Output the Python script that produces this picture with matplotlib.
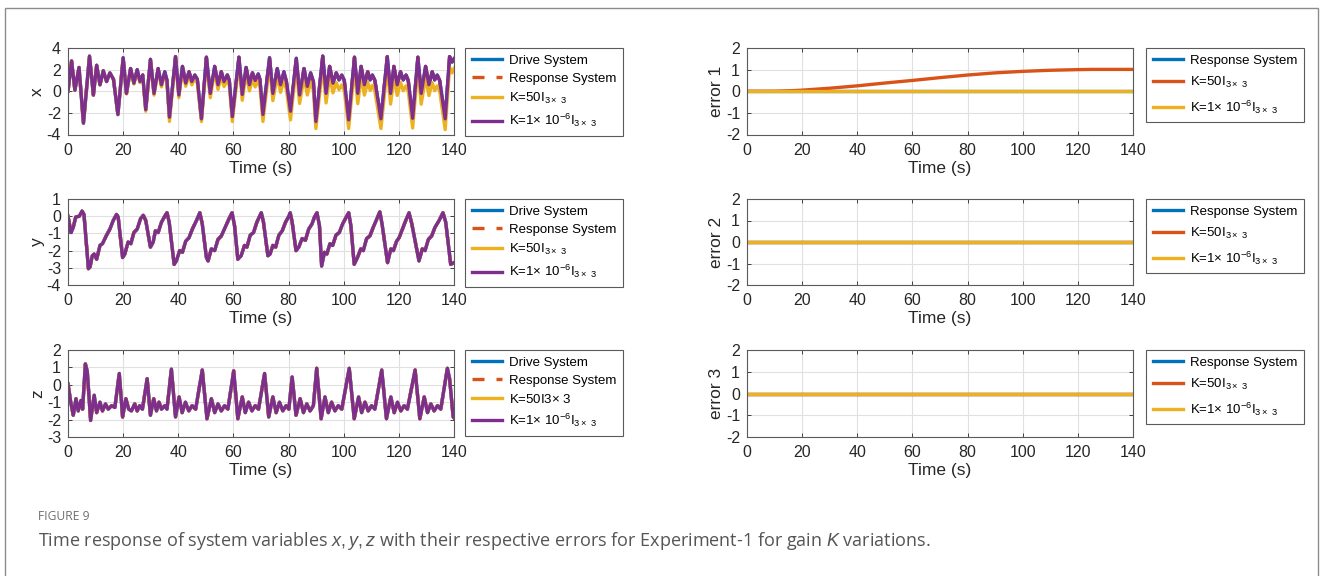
import numpy as np
import matplotlib
matplotlib.use('Agg')
from matplotlib import pyplot as plt
from matplotlib.patches import Rectangle

plt.rcParams['font.family'] = ['Liberation Sans', 'DejaVu Sans']
plt.rcParams['mathtext.fontset'] = 'custom'
plt.rcParams['mathtext.rm'] = 'Liberation Sans'
plt.rcParams['mathtext.it'] = 'Liberation Sans:italic'
plt.rcParams['axes.unicode_minus'] = False

#------------------------------------------------------------------------------
# values

# x state: K=1e-6 (purple) and K=50 (yellow)
t_x = [0, 1.3, 2.5, 4.0, 5.6, 7.8, 9.2, 10.4, 11.6, 12.8, 14.0, 15.2, 16.5, 18.1,
       20.0, 21.2, 22.7, 23.9, 25.1, 26.1, 27.1, 28.2, 29.9, 31.2, 32.7, 33.9, 35.1, 35.9, 36.8,
       39.0, 40.2, 41.5, 42.7, 43.9, 44.9, 46.0, 46.9, 48.4, 50.2, 51.6, 53.2, 54.4, 55.6, 56.6, 57.8, 58.5, 59.6,
       62.0, 63.2, 64.6, 65.8, 66.9, 67.9, 69.0, 69.6, 70.7, 73.1, 74.3, 75.9, 77.1, 78.3, 79.2, 80.7,
       82.8, 84.0, 85.6, 86.8, 88.0, 89.0, 89.9, 92.4, 93.6, 94.9, 96.1, 97.3, 98.3, 99.3, 100.2, 101.8,
       103.9, 105.1, 106.3, 107.5, 108.7, 109.6, 110.4, 111.3, 113.5, 115.8, 117.0, 118.2, 119.4, 120.6, 121.6, 122.6, 123.4, 125.0,
       126.9, 128.1, 129.7, 130.9, 132.1, 133.0, 133.9, 134.8, 136.8, 138.4, 139.3, 140.0]
x_k6 = [0.0, 2.8, 0.1, 2.2, -2.95, 3.25, -0.35, 2.4, 0.6, 1.9, 0.9, 1.7, 1.1, -2.15,
        3.1, -0.2, 2.1, 0.75, 2.0, 0.9, 1.5, -1.7, 2.95, -0.2, 2.1, 0.6, 1.8, 1.0, -2.4,
        3.2, -0.35, 2.3, 0.75, 1.8, 0.9, 1.5, 1.1, -2.55, 3.15, -0.2, 2.3, 0.6, 1.8, 0.9, 1.5, 1.0, -2.35,
        3.15, -0.3, 2.2, 0.6, 1.7, 1.0, 1.6, 1.1, -2.15, 3.1, -0.2, 2.1, 0.6, 1.8, 0.9, -1.85,
        3.05, -0.35, 2.1, 0.45, 1.7, 0.9, -2.8, 3.25, -0.2, 2.3, 0.75, 1.7, 1.05, 1.5, 1.0, -2.65,
        3.15, -0.2, 2.3, 0.6, 1.8, 1.05, 1.5, 1.0, -2.55, 3.2, -0.2, 2.3, 0.6, 1.8, 1.05, 1.5, 1.0, -2.5,
        3.15, -0.2, 2.3, 0.6, 1.8, 1.05, 1.5, 1.0, -2.55, 3.2, 2.7, 3.0]
x_k50 = [0.0, 2.8, 0.1, 2.2, -2.95, 3.25, -0.35, 2.4, 0.6, 1.9, 0.9, 1.7, 1.1, -2.17,
         3.05, -0.26, 2.03, 0.66, 1.9, 0.8, 1.39, -1.85, 2.8, -0.36, 1.92, 0.4, 1.59, 0.78, -2.79,
         2.96, -0.6, 2.03, 0.46, 1.5, 0.59, 1.18, 0.77, -2.8, 2.78, -0.6, 1.88, 0.17, 1.36, 0.44, 1.03, 0.52, -2.8,
         2.62, -0.84, 1.64, 0.03, 1.11, 0.4, 0.99, 0.47, -2.8, 2.44, -0.87, 1.42, -0.1, 1.08, 0.17, -2.65,
         2.28, -1.13, 1.31, -0.35, 0.88, 0.06, -3.45, 2.38, -1.08, 1.41, -0.15, 0.79, 0.14, 0.58, 0.08, -3.45,
         2.21, -1.15, 1.35, -0.36, 0.84, 0.08, 0.53, 0.03, -3.45, 2.22, -1.19, 1.31, -0.39, 0.8, 0.05, 0.5, 0.0, -3.4,
         2.15, -1.2, 1.3, -0.4, 0.8, 0.05, 0.5, 0.0, -3.55, 2.2, 1.7, 2.1]

# y state (all curves on top of each other)
t_y = [0, 1.1, 1.9, 2.8, 4.1, 5.1, 5.8, 7.4, 8.0, 8.8, 9.5, 10.4, 11.6, 12.5, 14.0, 15.2, 16.4, 17.6, 18.2,
       19.8, 20.6, 21.8, 22.8, 23.9, 25.1, 26.3, 27.3, 28.2, 29.9, 30.9, 31.7, 32.7, 33.9, 35.1, 35.9, 36.7,
       38.5, 39.3, 40.5, 41.5, 42.7, 43.9, 45.1, 46.6, 47.8, 48.7, 50.2, 50.8, 52.0, 53.2, 54.4, 55.6, 57.0,
       58.4, 59.5, 60.4, 61.6, 62.8, 64.0, 64.9, 66.1, 67.3, 68.5, 69.5, 70.1, 70.9, 72.5, 73.3, 74.3, 75.3,
       76.5, 77.7, 78.9, 80.1, 80.6, 81.3, 82.7, 83.7, 84.9, 86.1, 87.3, 88.5, 89.4, 90.3, 91.2, 92.0, 93.0,
       93.9, 95.0, 96.0, 97.2, 98.4, 99.6, 101.1, 101.8, 102.6, 103.8, 105.0, 106.2, 107.1, 108.3, 109.5,
       110.7, 111.9, 113.1, 113.9, 115.9, 117.1, 118.0, 119.2, 120.1, 121.3, 122.5, 123.7, 124.7, 127.3,
       128.5, 129.5, 130.7, 131.9, 133.1, 134.6, 136.0, 137.0, 138.8, 140.0]
y_vals = [0.0, -0.95, -0.65, -0.05, 0.0, 0.3, 0.1, -3.05, -2.95, -2.3, -2.2, -2.5, -1.7, -1.6, -1.1, -0.75, -0.25, 0.1, -0.05,
          -2.4, -2.2, -1.5, -1.6, -0.95, -0.75, -0.15, 0.05, -0.25, -1.8, -1.5, -0.85, -0.95, -0.35, 0.0, 0.2, -0.35,
          -2.8, -2.6, -2.0, -2.1, -1.45, -1.25, -0.75, -0.25, 0.2, -0.45, -2.4, -2.6, -1.9, -2.0, -1.35, -1.15, -0.65,
          -0.15, 0.2, -0.55, -2.5, -2.3, -1.7, -1.8, -1.1, -0.95, -0.35, 0.0, 0.2, -0.35, -2.3, -2.2, -1.7, -1.8,
          -1.1, -0.85, -0.35, 0.0, 0.2, -0.35, -2.0, -1.8, -1.3, -1.4, -0.75, -0.45, -0.05, 0.2, -0.55, -2.9, -2.1,
          -2.2, -1.6, -1.7, -1.1, -0.95, -0.45, 0.0, 0.2, -0.55, -2.8, -2.4, -1.9, -2.0, -1.3, -1.15,
          -0.65, -0.2, 0.25, -0.45, -2.7, -1.9, -2.0, -1.45, -1.25, -0.75, -0.25, 0.2, -0.45, -2.6,
          -1.9, -2.0, -1.35, -1.15, -0.65, -0.25, 0.2, -0.35, -2.8, -2.7]

# z state
t_z = [0, 1.0, 1.9, 2.9, 3.7, 4.7, 5.3, 6.3, 7.0, 8.2, 9.5, 10.4, 11.6, 12.5, 13.6, 14.6, 15.8, 17.0,
       18.6, 19.8, 21.0, 22.0, 23.0, 24.2, 25.1, 26.0, 27.0, 28.7, 29.9, 31.1, 32.1, 33.0, 33.9, 35.1, 35.9,
       37.5, 39.0, 40.3, 41.4, 42.6, 43.8, 45.0, 46.3, 48.7, 50.4, 52.0, 53.2, 54.4, 55.6, 56.8, 58.0,
       60.1, 61.6, 63.2, 64.3, 65.5, 66.7, 67.9, 69.1, 71.3, 72.8, 74.3, 75.5, 76.7, 77.9, 79.1, 80.1,
       81.3, 82.7, 84.2, 85.4, 86.6, 87.8, 89.0, 90.2, 91.8, 93.2, 94.4, 95.6, 96.8, 98.0, 99.3,
       102.0, 103.8, 105.4, 106.5, 107.7, 108.9, 110.1, 111.3, 113.8, 115.5, 117.1, 118.3, 119.5, 120.7, 121.9, 123.1,
       125.9, 127.6, 129.2, 130.4, 131.6, 132.8, 134.0, 135.2, 137.6, 138.4, 139.7, 140.0]
z_vals = [0.05, -1.0, -1.75, -0.8, -1.5, -0.9, -1.4, 1.2, 0.75, -2.05, -0.6, -1.6, -1.0, -1.5, -1.1, -1.4, -1.2, -1.3,
          0.65, -1.85, -0.8, -1.4, -1.5, -1.1, -1.5, -1.2, -1.4, 0.35, -1.75, -0.8, -1.5, -1.0, -1.4, -1.2, -1.4,
          0.9, -1.85, -0.7, -1.6, -1.0, -1.5, -1.2, -1.4, 0.85, -1.95, -0.8, -1.6, -1.1, -1.5, -1.2, -1.4,
          0.8, -1.95, -0.7, -1.6, -1.0, -1.5, -1.2, -1.4, 0.65, -1.85, -0.7, -1.6, -1.0, -1.5, -1.2, -1.4,
          0.45, -1.75, -0.8, -1.6, -1.1, -1.5, -1.2, 0.95, -1.95, -0.7, -1.6, -1.0, -1.5, -1.2, -1.4,
          0.95, -1.95, -0.7, -1.6, -1.0, -1.5, -1.2, -1.4, 0.85, -1.95, -0.7, -1.6, -1.0, -1.5, -1.2, -1.4,
          0.85, -1.95, -0.7, -1.6, -1.1, -1.5, -1.2, -1.4, 0.95, 0.35, -1.85, -1.9]

# errors: only error 1 with K=50 drifts away from zero
t_err1 = [0, 10, 15, 20, 30, 40, 50, 60, 70, 80, 90, 100, 110, 120, 125, 130, 140]
err1_k50 = [0, 0, 0.02, 0.05, 0.14, 0.25, 0.38, 0.5, 0.63, 0.75, 0.85, 0.92, 0.97, 1.0, 1.01, 1.01, 1.01]
t_zero = [0, 140]
zero = [0, 0]

#------------------------------------------------------------------------------

blue = '#0072BD'
red = '#D95319'
yellow = '#EDB120'
purple = '#7E2F8E'
lw = 2.4

k50 = 'K=50I$_{3\\times\\ 3}$'
k6 = 'K=1$\\times$ 10$^{-6}$I$_{3\\times\\ 3}$'

W, H = 1328, 576
fig = plt.figure(figsize=(W / 100, H / 100), dpi=100)

# outer frame of the figure panel
fig.add_artist(Rectangle((5 / W, -0.05), 1313 / W, 1.05 - 8 / H, transform=fig.transFigure,
                         fill=False, edgecolor='#8c8c8c', lw=1.0))

rows = [(48, 134.5), (199, 285), (350, 437)]
left_x = 68
right_x = 747
ax_w = 386


def make_ax(x0, row):
    top, bot = row
    return fig.add_axes([x0 / W, 1 - bot / H, ax_w / W, (bot - top) / H])


def style(ax, ylim, yticks, ylabel):
    ax.set_xlim(0, 140)
    ax.set_xticks(np.arange(0, 141, 20))
    ax.set_ylim(ylim)
    ax.set_yticks(yticks)
    ax.grid(True, color='#e0e0e0', lw=0.8)
    ax.set_axisbelow(True)
    ax.tick_params(direction='in', length=3, labelsize=11.5, colors='#262626',
                   top=True, right=True, width=0.6)
    ax.tick_params(axis='x', pad=6)
    ax.tick_params(axis='y', pad=5)
    for sp in ax.spines.values():
        sp.set_color('#5a5a5a')
        sp.set_linewidth(0.8)
    ax.set_xlabel('Time (s)', fontsize=12.5, color='#262626', labelpad=2)
    ax.set_ylabel(ylabel, fontsize=12.5, color='#262626', labelpad=1)


def legend(ax, x_off, spacing):
    # x_off: gap in pixels between the axes right edge and the legend box
    leg = ax.legend(loc='upper left', bbox_to_anchor=(1 + x_off / ax_w, 1.0), borderaxespad=0,
                    fontsize=9.5, frameon=True, fancybox=False, framealpha=1,
                    edgecolor='#5a5a5a', handlelength=2.3, handletextpad=0.55,
                    labelspacing=spacing, borderpad=0.5)
    leg.get_frame().set_linewidth(0.8)


# left column: states
states = [(t_x, x_k6, x_k50, (-4, 4), np.arange(-4, 5, 2), 'x', k50),
          (t_y, y_vals, y_vals, (-4, 1), np.arange(-4, 2, 1), 'y', k50),
          (t_z, z_vals, z_vals, (-3, 2), np.arange(-3, 3, 1), 'z', 'K=50I3$\\times$ 3')]

for row, (t, v6, v50, ylim, yt, lab, k50lab) in zip(rows, states):
    ax = make_ax(left_x, row)
    ax.plot(t, v6, color=blue, lw=lw, label='Drive System')
    ax.plot(t, v6, color=red, lw=lw, ls=(0, (3.6, 3.6)), label='Response System')
    ax.plot(t, v50, color=yellow, lw=lw, label=k50lab)
    ax.plot(t, v6, color=purple, lw=lw, label=k6)
    style(ax, ylim, yt, lab)
    legend(ax, 11, 0.45)

# right column: errors
for i, row in enumerate(rows):
    ax = make_ax(right_x, row)
    ax.plot(t_zero, zero, color=blue, lw=lw, label='Response System')
    if i == 0:
        ax.plot(t_err1, err1_k50, color=red, lw=lw, label=k50)
    else:
        ax.plot(t_zero, zero, color=red, lw=lw, label=k50)
    ax.plot(t_zero, zero, color=yellow, lw=lw, label=k6)
    style(ax, (-2, 2), np.arange(-2, 3, 1), 'error %d' % (i + 1))
    legend(ax, 13, 0.62)

# caption
fig.text(38 / W, 1 - 517 / H, 'FIGURE 9', fontsize=8.7, color='#6f6f6f', va='center',
         family=['Open Sans', 'DejaVu Sans'])
fig.text(38 / W, 1 - 541 / H,
         'Time response of system variables $x, y, z$ with their respective errors for '
         'Experiment-1 for gain $K$ variations.',
         fontsize=13, color='#555555', va='center', family=['Open Sans', 'DejaVu Sans'])

fig.savefig('out.png', dpi=100)
